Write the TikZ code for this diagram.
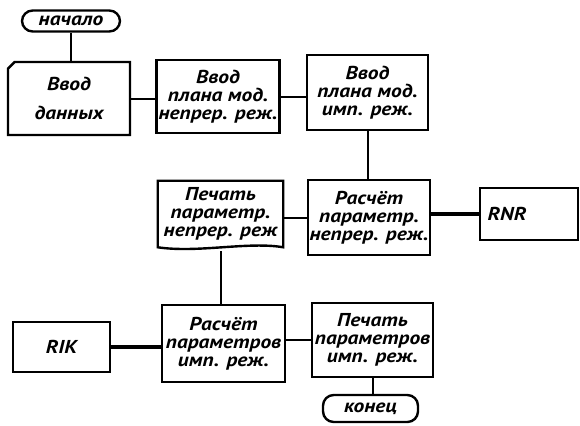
\documentclass[tikz,border=0pt]{standalone}
\usepackage{fontspec}
\setmainfont{PT Sans}
\newfontfamily\ruka{PT Sans}[FakeStretch=1.15]
\usetikzlibrary{shapes.misc}

\begin{document}
\begin{tikzpicture}[x=0.75pt,y=0.75pt,yscale=-1,xscale=1,
  txt/.style={font=\ruka\fontsize{14}{13.5}\selectfont\bfseries\itshape,align=center},
  blok/.style={txt,draw,line width=1.8pt,inner sep=0.75pt},
  term/.style={txt,draw,line width=1.8pt,rounded corners=8pt,inner sep=0.75pt},
  svyaz/.style={line width=1.5pt},
  potok/.style={line width=2.6pt}]
%set diagram left start at 0, and has height of 425
\useasboundingbox (0,0) rectangle (580,425);

%Shape: Terminal
\node [term,minimum width=73.5pt,minimum height=15.75pt] (nachalo) at (71,21) {начало};
%Shape: Chamfered Rectangle
\node [blok,chamfered rectangle,chamfered rectangle corners=north west,chamfered rectangle xsep=2.5pt,chamfered rectangle ysep=2.5pt,minimum width=91.5pt,minimum height=54.75pt] (vvoddan) at (69,98.5) {Ввод\\[8pt]данных};
%Shape: Rectangle
\node [blok,minimum width=92.25pt,minimum height=54.75pt] (vvodnep) at (218,96.5) {Ввод\\плана мод.\\непрер. реж.};
%Shape: Rectangle
\node [blok,minimum width=90.75pt,minimum height=56.25pt] (vvodimp) at (367.5,92.5) {Ввод\\плана мод.\\имп. реж.};
%Shape: Rectangle
\node [blok,minimum width=91.5pt,minimum height=56.25pt] (rasnep) at (369,217.5) {Расчёт\\параметр.\\непрер. реж.};
%Shape: Rectangle
\node [blok,minimum height=39pt,text width=62pt,inner xsep=5.75pt,align=left] (rnr) at (529,214) {RNR};
% Text Node (document)
\node [txt,minimum width=93.75pt,minimum height=49.5pt,inner sep=0.75pt] (pechnep) at (220.5,214) {Печать\\параметр.\\непрер. реж};
%Shape: Document
\draw [line width=1.8pt] (pechnep.south west) -- (pechnep.north west) -- (pechnep.north east) -- (pechnep.south east) .. controls +(-35,-6) and +(40,6) .. (pechnep.south west) -- cycle;
%Shape: Rectangle
\node [blok,minimum width=92.25pt,minimum height=57.75pt] (rasimp) at (223.5,343.5) {Расчёт\\параметров\\имп. реж.};
%Shape: Rectangle
\node [blok,minimum width=72.75pt,minimum height=37.5pt] (rik) at (61.5,347) {RIK};
%Shape: Rectangle
\node [blok,minimum width=90.75pt,minimum height=55.5pt] (pechimp) at (372.5,340) {Печать\\параметров\\имп. реж.};
%Shape: Terminal
\node [term,minimum width=71.25pt,minimum height=20.25pt] (konec) at (370.5,408.5) {конец};

%Straight Lines
\draw [svyaz] (nachalo.south) -- (nachalo.south |- vvoddan.north);
%Straight Lines
\draw [svyaz] (vvoddan.east) -- (vvoddan.east -| vvodnep.west);
%Straight Lines
\draw [svyaz] (vvodnep.east) -- (vvodnep.east -| vvodimp.west);
%Straight Lines
\draw [svyaz] (vvodimp.south) -- (vvodimp.south |- rasnep.north);
%Straight Lines
\draw [svyaz] (rasnep.west) -- (rasnep.west -| pechnep.east);
%Straight Lines
\draw [potok] (rasnep.east |- rnr.west) -- (rnr.west);
%Straight Lines
\draw [svyaz] (pechnep.south) ++(0,4) -- (pechnep.south |- rasimp.north);
%Straight Lines
\draw [potok] (rasimp.west |- rik.east) -- (rik.east);
%Straight Lines
\draw [svyaz] (rasimp.east |- pechimp.west) -- (pechimp.west);
%Straight Lines
\draw [svyaz] (pechimp.south) -- (pechimp.south |- konec.north);

\end{tikzpicture}
\end{document}
